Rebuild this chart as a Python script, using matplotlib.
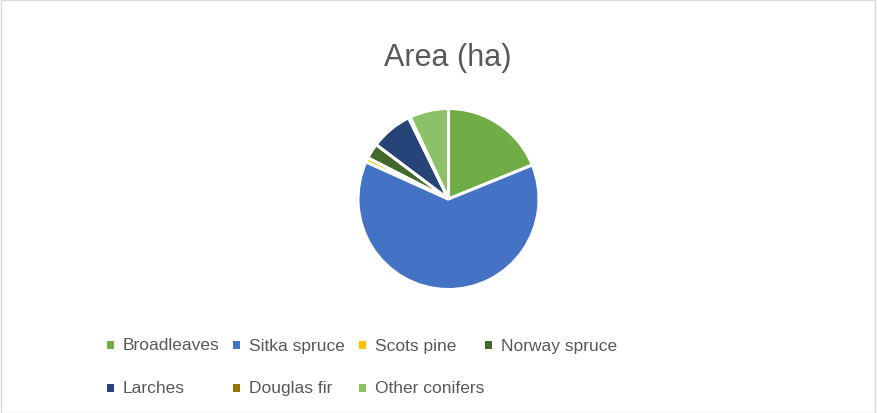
import matplotlib.pyplot as plt
from matplotlib.patches import Rectangle

# data (ha)
species = ['Broadleaves', 'Sitka spruce', 'Scots pine', 'Norway spruce',
           'Larches', 'Douglas fir', 'Other conifers']
area = [1870, 6230, 80, 270, 740, 30, 690]
colors = ['#70AD47', '#4472C4', '#FFC000', '#43682B',
          '#264478', '#997300', '#8CC168']

W, H = 878, 414
fig = plt.figure(figsize=(W / 100, H / 100), dpi=100)
fig.patch.set_facecolor('white')

# thin grey chart border
fig.add_artist(Rectangle((0.001, 0.001), 0.996, 0.996, transform=fig.transFigure,
                         fill=False, edgecolor='#D9D9D9', linewidth=1))

# pie: centre ~(448, 200) px, radius ~90 px
cx, cy, r = 448.5, 200, 90.5
ax = fig.add_axes([(cx - r) / W, (H - cy - r) / H, 2 * r / W, 2 * r / H])
ax.pie(area, colors=colors, startangle=90, counterclock=False,
       wedgeprops=dict(edgecolor='white', linewidth=2.2))
ax.set_xlim(-1, 1)
ax.set_ylim(-1, 1)
ax.set_aspect('equal')
ax.axis('off')

fig.text(448 / W, 1 - 58 / H, 'Area (ha)', ha='center', va='center',
         fontsize=22, color='#595959', family='Liberation Sans')

# legend laid out like Excel: 4 equal columns, 2 rows
for i, (lab, col) in enumerate(zip(species, colors)):
    c, rw = i % 4, i // 4
    x = 107 + c * 126
    y = 346 + rw * 43
    fig.add_artist(Rectangle((x / W, 1 - (y + 4) / H), 7 / W, 8 / H,
                             transform=fig.transFigure, facecolor=col, edgecolor='none'))
    fig.text((x + 16) / W, 1 - y / H, lab, ha='left', va='center',
             fontsize=12.5, color='#595959', family='Liberation Sans')

fig.savefig('out.png', dpi=100)
